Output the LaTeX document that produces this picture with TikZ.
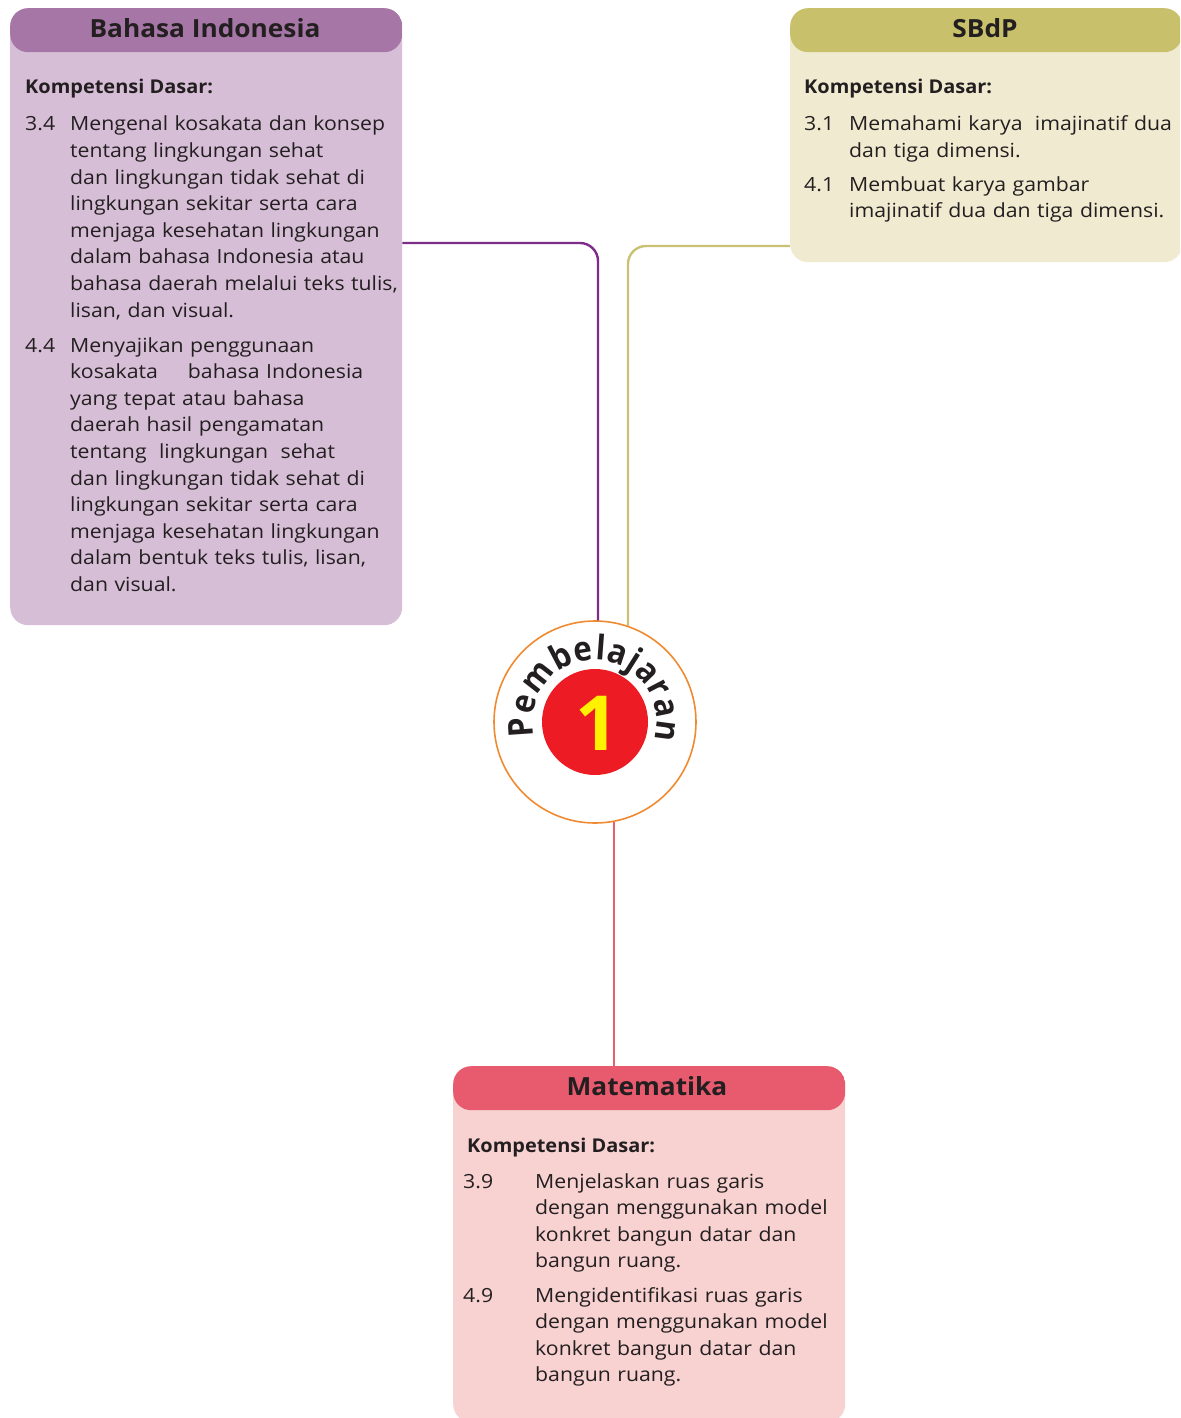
\documentclass[tikz,border=0pt]{standalone}
\usepackage{fontspec}
\setmainfont{Open Sans}
\newfontfamily\bodyfont[FakeStretch=1.09]{Open Sans}
\newfontfamily\kdfont[FakeStretch=1.05]{Open Sans}
\newfontfamily\ringfont[FakeStretch=0.92]{Open Sans}
\newfontfamily\numfont{Open Sans}
\usetikzlibrary{decorations.text,calc}
\definecolor{txt}{HTML}{231F20}
\definecolor{biHead}{HTML}{A677A6}
\definecolor{biBody}{HTML}{D7BED7}
\definecolor{biLine}{HTML}{7E2C8A}
\definecolor{sbHead}{HTML}{C8C06A}
\definecolor{sbBody}{HTML}{F0EBD0}
\definecolor{sbLine}{HTML}{C9C173}
\definecolor{mtHead}{HTML}{E85A6E}
\definecolor{mtBody}{HTML}{F8D1D1}
\definecolor{mtLine}{HTML}{E4606F}
\definecolor{ringC}{HTML}{F08A30}
\definecolor{redC}{HTML}{ED1C24}
\definecolor{yelC}{HTML}{FFF200}
\tikzset{
  card/.style={rounded corners=18pt, inner sep=0pt, anchor=north west,
    path picture={\fill[#1] (path picture bounding box.north west) rectangle ([yshift=-44pt]path picture bounding box.north east);}},
  title/.style={font=\kdfont\bfseries\fontsize{25}{28}\selectfont, text=txt, inner sep=0pt, anchor=base},
  kd/.style={font=\kdfont\bfseries\fontsize{19}{24}\selectfont, text=txt, inner sep=0pt, anchor=base west},
  num/.style={font=\bodyfont\fontsize{19.5}{26.6}\selectfont, text=txt, inner sep=0pt, anchor=base west},
  item/.style={font=\bodyfont\fontsize{19.5}{26.6}\selectfont, text=txt, inner sep=0pt, anchor=base west, align=left, text width=#1},
  conn/.style={line width=2.4pt, rounded corners=18pt},
}
\begin{document}
\begin{tikzpicture}[x=1pt,y=-1pt]
\useasboundingbox (0,0) rectangle (1180,1418);
\clip (0,0) rectangle (1180,1418);
\coordinate (cc) at (595,722);
% boxes
\node[card=biHead, fill=biBody, minimum width=392pt, minimum height=617pt] (bi) at (10,8) {};
\node[card=sbHead, fill=sbBody, minimum width=392pt, minimum height=254pt] (sb) at (790,8) {};
\node[card=mtHead, fill=mtBody, minimum width=392pt, minimum height=356pt] (mt) at (453,1066) {};
% connectors (drawn before the circle, which covers their ends)
\draw[conn, biLine] (bi.east |- 0,243) -| ($(cc)+(3,0)$);
\draw[conn, sbLine] (sb.west |- 0,246) -| ($(cc)+(33,0)$);
\draw[conn, mtLine] ($(cc)+(19,0)$) -- ($(mt.north west)+(161,0)$);
% circle
\node[circle, draw=ringC, line width=1.6pt, fill=white, minimum size=202pt, inner sep=0pt] (ring) at (cc) {};
\node[circle, fill=redC, minimum size=106pt, inner sep=0pt] (dot) at (cc) {};
\node[font=\numfont\bfseries\fontsize{76}{76}\selectfont, text=yelC, inner sep=0pt] (one) at ($(cc)+(2,1)$) {1};
\path[decorate, decoration={text along path, text align={fit to path}, text={|\ringfont\bfseries\fontsize{34}{34}\selectfont\color{txt}|Pembelajaran}}]
  ($(cc)+(167:62)$) arc (167:377:62);
% Bahasa Indonesia
\node[title] (biT) at (205,38) {Bahasa Indonesia};
\node[kd] (biK) at (25,94) {Kompetensi Dasar:};
\node[num] (biN1) at (25,131) {3.4};
\node[item=340pt] (biI1) at (70,131) {Mengenal kosakata dan konsep\\tentang lingkungan sehat\\dan lingkungan tidak sehat di\\lingkungan sekitar serta cara\\menjaga kesehatan lingkungan\\dalam bahasa Indonesia atau\\bahasa daerah melalui teks tulis,\\lisan, dan visual.};
\node[num] (biN2) at (25,352) {4.4};
\node[item=340pt] (biI2) at (70,352) {Menyajikan penggunaan\\kosakata\hspace{1.2em} bahasa Indonesia\\yang tepat atau bahasa\\daerah hasil pengamatan\\tentang\hspace{0.3em} lingkungan\hspace{0.3em} sehat\\dan lingkungan tidak sehat di\\lingkungan sekitar serta cara\\menjaga kesehatan lingkungan\\dalam bentuk teks tulis, lisan,\\dan visual.};
% SBdP
\node[title] (sbT) at (985,38) {SBdP};
\node[kd] (sbK) at (804,94) {Kompetensi Dasar:};
\node[num] (sbN1) at (804,131) {3.1};
\node[item=360pt] (sbI1) at (849,131) {Memahami karya\hspace{0.3em} imajinatif dua\\dan tiga dimensi.};
\node[num] (sbN2) at (804,191) {4.1};
\node[item=360pt] (sbI2) at (849,191) {Membuat karya gambar\\imajinatif dua dan tiga dimensi.};
% Matematika
\node[title] (mtT) at (647,1095) {Matematika};
\node[kd] (mtK) at (467,1152) {Kompetensi Dasar:};
\node[num] (mtN1) at (463,1188) {3.9};
\node[item=310pt] (mtI1) at (535,1188) {Menjelaskan ruas garis\\dengan menggunakan model\\konkret bangun datar dan\\bangun ruang.};
\node[num] (mtN2) at (463,1302) {4.9};
\node[item=310pt] (mtI2) at (535,1302) {Mengidentifikasi ruas garis\\dengan menggunakan model\\konkret bangun datar dan\\bangun ruang.};
\end{tikzpicture}
\end{document}
